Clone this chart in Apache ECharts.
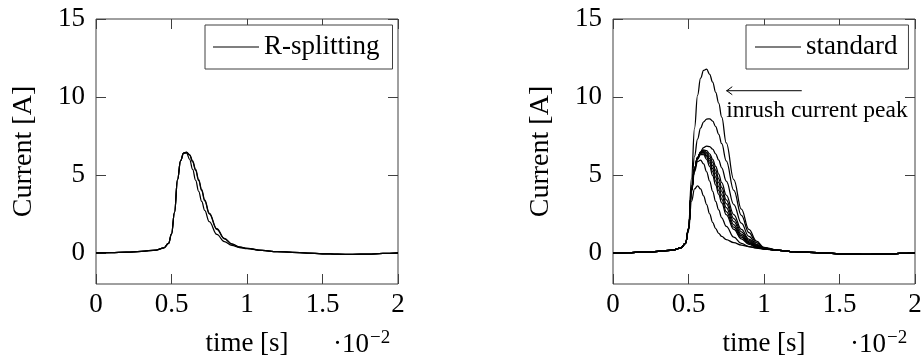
<!DOCTYPE html>
<html>
<head>
<meta charset="utf-8">
<script src="https://cdn.jsdelivr.net/npm/echarts@6/dist/echarts.min.js"></script>
<style>
  html, body { margin: 0; padding: 0; background: #fff; }
  #chart { width: 924px; height: 361px; }
</style>
</head>
<body>
<div id="chart"></div>
<script>
// Time samples, in units of 1e-2 s
const time = [0, 0.1, 0.2, 0.3, 0.4, 0.45, 0.48, 0.5, 0.52, 0.54, 0.56, 0.58, 0.6, 0.62, 0.64, 0.66, 0.68, 0.7, 0.72, 0.75, 0.8, 0.85, 0.9, 0.95, 1.0, 1.1, 1.2, 1.3, 1.4, 1.5, 1.6, 1.7, 1.8, 1.9, 2.0];

// R-splitting runs (current in A)
const rSplit1 = [0, 0.01, 0.04, 0.09, 0.18, 0.32, 0.6, 1.2, 2.6, 4.7, 5.9, 6.4, 6.4, 6.0, 5.35, 4.65, 3.95, 3.3, 2.72, 2.0, 1.18, 0.72, 0.47, 0.34, 0.27, 0.15, 0.08, 0.03, -0.02, -0.06, -0.09, -0.1, -0.08, -0.04, 0];
const rSplit2 = [0, 0.01, 0.04, 0.09, 0.18, 0.32, 0.6, 1.2, 2.6, 4.7, 5.9, 6.4, 6.46, 6.3, 5.9, 5.35, 4.7, 4.05, 3.4, 2.55, 1.55, 0.92, 0.57, 0.38, 0.28, 0.15, 0.08, 0.03, -0.02, -0.06, -0.09, -0.1, -0.08, -0.04, 0];
const rSplit3 = [0, 0.01, 0.04, 0.09, 0.18, 0.32, 0.6, 1.2, 2.6, 4.7, 5.9, 6.4, 6.45, 6.26, 5.84, 5.28, 4.63, 3.98, 3.33, 2.5, 1.51, 0.9, 0.56, 0.37, 0.28, 0.15, 0.08, 0.03, -0.02, -0.06, -0.09, -0.1, -0.08, -0.04, 0];

// Standard runs (current in A)
const std1  = [0, 0.01, 0.04, 0.09, 0.18, 0.32, 0.6, 1.6, 4.8, 8.0, 10.1, 11.2, 11.7, 11.78, 11.45, 10.95, 10.3, 9.6, 8.7, 7.05, 4.7, 2.8, 1.5, 0.75, 0.35, 0.15, 0.08, 0.03, -0.02, -0.06, -0.09, -0.1, -0.08, -0.04, 0];
const std2  = [0, 0.01, 0.04, 0.09, 0.18, 0.32, 0.6, 1.55, 4.3, 6.2, 7.3, 8.0, 8.4, 8.58, 8.6, 8.45, 8.1, 7.6, 7.0, 5.9, 4.0, 2.4, 1.3, 0.65, 0.3, 0.15, 0.08, 0.03, -0.02, -0.06, -0.09, -0.1, -0.08, -0.04, 0];
const std3  = [0, 0.01, 0.04, 0.09, 0.18, 0.32, 0.6, 1.5, 4.0, 5.4, 6.1, 6.5, 6.75, 6.85, 6.82, 6.65, 6.35, 5.95, 5.45, 4.6, 3.1, 1.9, 1.05, 0.55, 0.3, 0.15, 0.08, 0.03, -0.02, -0.06, -0.09, -0.1, -0.08, -0.04, 0];
const std4  = [0, 0.01, 0.04, 0.09, 0.18, 0.32, 0.6, 1.5, 4.0, 5.4, 6.1, 6.45, 6.6, 6.55, 6.35, 6.0, 5.55, 5.05, 4.5, 3.7, 2.45, 1.5, 0.88, 0.5, 0.29, 0.15, 0.08, 0.03, -0.02, -0.06, -0.09, -0.1, -0.08, -0.04, 0];
const std5  = [0, 0.01, 0.04, 0.09, 0.18, 0.32, 0.6, 1.5, 4.0, 5.4, 6.1, 6.45, 6.55, 6.45, 6.2, 5.8, 5.3, 4.75, 4.2, 3.4, 2.2, 1.35, 0.8, 0.45, 0.28, 0.15, 0.08, 0.03, -0.02, -0.06, -0.09, -0.1, -0.08, -0.04, 0];
const std6  = [0, 0.01, 0.04, 0.09, 0.18, 0.32, 0.6, 1.5, 4.0, 5.4, 6.1, 6.42, 6.5, 6.35, 6.05, 5.6, 5.1, 4.5, 3.95, 3.15, 2.0, 1.2, 0.72, 0.42, 0.27, 0.15, 0.08, 0.03, -0.02, -0.06, -0.09, -0.1, -0.08, -0.04, 0];
const std7  = [0, 0.01, 0.04, 0.09, 0.18, 0.32, 0.6, 1.5, 4.0, 5.4, 6.1, 6.4, 6.45, 6.25, 5.9, 5.4, 4.85, 4.25, 3.7, 2.9, 1.8, 1.1, 0.65, 0.4, 0.26, 0.15, 0.08, 0.03, -0.02, -0.06, -0.09, -0.1, -0.08, -0.04, 0];
const std8  = [0, 0.01, 0.04, 0.09, 0.18, 0.32, 0.6, 1.5, 4.0, 5.4, 6.1, 6.38, 6.4, 6.15, 5.75, 5.2, 4.6, 4.0, 3.45, 2.65, 1.65, 1.0, 0.6, 0.38, 0.25, 0.15, 0.08, 0.03, -0.02, -0.06, -0.09, -0.1, -0.08, -0.04, 0];
const std9  = [0, 0.01, 0.04, 0.09, 0.18, 0.32, 0.6, 1.5, 4.0, 5.35, 6.0, 6.3, 6.3, 6.0, 5.55, 4.95, 4.35, 3.75, 3.2, 2.45, 1.5, 0.9, 0.55, 0.35, 0.25, 0.15, 0.08, 0.03, -0.02, -0.06, -0.09, -0.1, -0.08, -0.04, 0];
const std10 = [0, 0.01, 0.04, 0.09, 0.18, 0.32, 0.6, 1.5, 3.9, 5.2, 5.85, 5.95, 5.7, 5.2, 4.6, 3.95, 3.3, 2.75, 2.25, 1.7, 1.0, 0.6, 0.4, 0.3, 0.24, 0.15, 0.08, 0.03, -0.02, -0.06, -0.09, -0.1, -0.08, -0.04, 0];
const std11 = [0, 0.01, 0.04, 0.09, 0.18, 0.32, 0.6, 1.4, 3.3, 4.1, 4.3, 4.1, 3.65, 3.1, 2.5, 1.95, 1.55, 1.25, 1.05, 0.85, 0.65, 0.5, 0.4, 0.32, 0.26, 0.15, 0.08, 0.03, -0.02, -0.06, -0.09, -0.1, -0.08, -0.04, 0];

// Axis ticks
const xTicks = [0, 0.5, 1, 1.5, 2];
const yTicks = [0, 5, 10, 15];

// Annotation on the standard panel, in data coordinates
const arrowTail = [1.25, 10.4];
const arrowHead = [0.75, 10.4];
const noteAnchor = [0.75, 9.1];
const noteText = 'inrush current peak';

const rSplitRuns = [rSplit1, rSplit2, rSplit3];
const stdRuns = [std1, std2, std3, std4, std5, std6, std7, std8, std9, std10, std11];

const FONT = '"Liberation Serif", "Times New Roman", serif';
const FRAME = '#404040';

const chart = echarts.init(document.getElementById('chart'), null, { renderer: 'canvas' });

function pairs(values) {
  return time.map((t, i) => [t, values[i]]);
}

function lineSeries(name, values, g) {
  return {
    type: 'line',
    name: name,
    xAxisIndex: g * 2,
    yAxisIndex: g * 2,
    data: pairs(values),
    showSymbol: false,
    smooth: 0.4,
    smoothMonotone: 'x',
    silent: true,
    color: '#000',
    lineStyle: { color: '#000', width: 1.25 },
    emphasis: { disabled: true }
  };
}

const grids = [
  { left: 96, top: 19, width: 302, height: 265 },
  { left: 613, top: 19, width: 302, height: 265 }
];

const tickStyle = { show: true, inside: true, length: 10, lineStyle: { color: FRAME, width: 1 } };

const xAxes = [];
const yAxes = [];
grids.forEach((g, gi) => {
  xAxes.push({
    gridIndex: gi, type: 'value', position: 'bottom',
    min: 0, max: 2, interval: 0.5,
    axisLine: { show: false, onZero: false },
    axisTick: Object.assign({ customValues: xTicks }, tickStyle),
    axisLabel: { customValues: xTicks, fontSize: 27, fontFamily: FONT, color: '#000', margin: 7 },
    splitLine: { show: false },
    name: 'time [s]', nameLocation: 'middle', nameGap: 46,
    nameTextStyle: { fontSize: 27, fontFamily: FONT, color: '#000' }
  });
  xAxes.push({
    gridIndex: gi, type: 'value', position: 'top',
    min: 0, max: 2, interval: 0.5,
    axisLine: { show: false, onZero: false },
    axisTick: Object.assign({ customValues: xTicks }, tickStyle),
    axisLabel: { show: false },
    splitLine: { show: false }
  });
  yAxes.push({
    gridIndex: gi, type: 'value', position: 'left',
    min: -2, max: 15,
    axisLine: { show: false, onZero: false },
    axisTick: Object.assign({ customValues: yTicks }, tickStyle),
    axisLabel: { customValues: yTicks, fontSize: 27, fontFamily: FONT, color: '#000', margin: 11 },
    splitLine: { show: false },
    name: 'Current [A]', nameLocation: 'middle', nameGap: 58, nameRotate: 90,
    nameTextStyle: { fontSize: 28, fontFamily: FONT, color: '#000' }
  });
  yAxes.push({
    gridIndex: gi, type: 'value', position: 'right',
    min: -2, max: 15,
    axisLine: { show: false, onZero: false },
    axisTick: Object.assign({ customValues: yTicks }, tickStyle),
    axisLabel: { show: false },
    splitLine: { show: false }
  });
});

const legendBase = {
  orient: 'horizontal',
  top: 25,
  itemWidth: 46,
  itemHeight: 1,
  icon: 'rect',
  selectedMode: false,
  borderColor: FRAME,
  borderWidth: 1,
  borderRadius: 0,
  backgroundColor: '#fff',
  textStyle: { fontSize: 27, fontFamily: FONT, color: '#000', lineHeight: 28 }
};

const series = [];
rSplitRuns.forEach(r => series.push(lineSeries('R-splitting', r, 0)));
stdRuns.forEach(r => series.push(lineSeries('standard', r, 1)));

chart.setOption({
  animation: false,
  backgroundColor: '#fff',
  textStyle: { fontFamily: FONT },
  grid: grids.map(g => Object.assign({
    show: true, borderColor: FRAME, borderWidth: 1, backgroundColor: 'transparent',
    containLabel: false, outerBoundsMode: 'none'
  }, g)),
  xAxis: xAxes,
  yAxis: yAxes,
  legend: [
    Object.assign({}, legendBase, { data: ['R-splitting'], left: 205, padding: [8, 13, 8, 8] }),
    Object.assign({}, legendBase, { data: ['standard'], left: 746, padding: [8, 11, 8, 9] })
  ],
  series: series
});

// Overlay: arrow with its note, and the 10^-2 factor below each time axis
const tail = chart.convertToPixel({ gridIndex: 1 }, arrowTail);
const head = chart.convertToPixel({ gridIndex: 1 }, arrowHead);
const note = chart.convertToPixel({ gridIndex: 1 }, noteAnchor);

const overlay = [
  {
    type: 'line', silent: true,
    shape: { x1: tail[0], y1: tail[1], x2: head[0], y2: head[1] },
    style: { stroke: '#000', lineWidth: 1 }
  },
  {
    type: 'polyline', silent: true,
    shape: { points: [[head[0] + 6, head[1] - 4], [head[0] + 0.5, head[1]], [head[0] + 6, head[1] + 4]] },
    style: { stroke: '#000', lineWidth: 1, fill: null }
  },
  {
    type: 'text', silent: true, x: note[0], y: note[1],
    style: { text: noteText, fontSize: 23.5, fontFamily: FONT, fill: '#000', align: 'left', verticalAlign: 'middle' }
  }
];

grids.forEach((g, gi) => {
  const corner = chart.convertToPixel({ gridIndex: gi }, [xTicks[xTicks.length - 1], -2]);
  overlay.push({
    type: 'text', silent: true, x: corner[0] - 29, y: corner[1] + 61,
    style: { text: '\u00B710', fontSize: 27, fontFamily: FONT, fill: '#000', align: 'right', verticalAlign: 'middle' }
  });
  overlay.push({
    type: 'text', silent: true, x: corner[0] - 28, y: corner[1] + 54,
    style: { text: '\u22122', fontSize: 19, fontFamily: FONT, fill: '#000', align: 'left', verticalAlign: 'middle' }
  });
});

chart.setOption({ graphic: overlay });
</script>
</body>
</html>
